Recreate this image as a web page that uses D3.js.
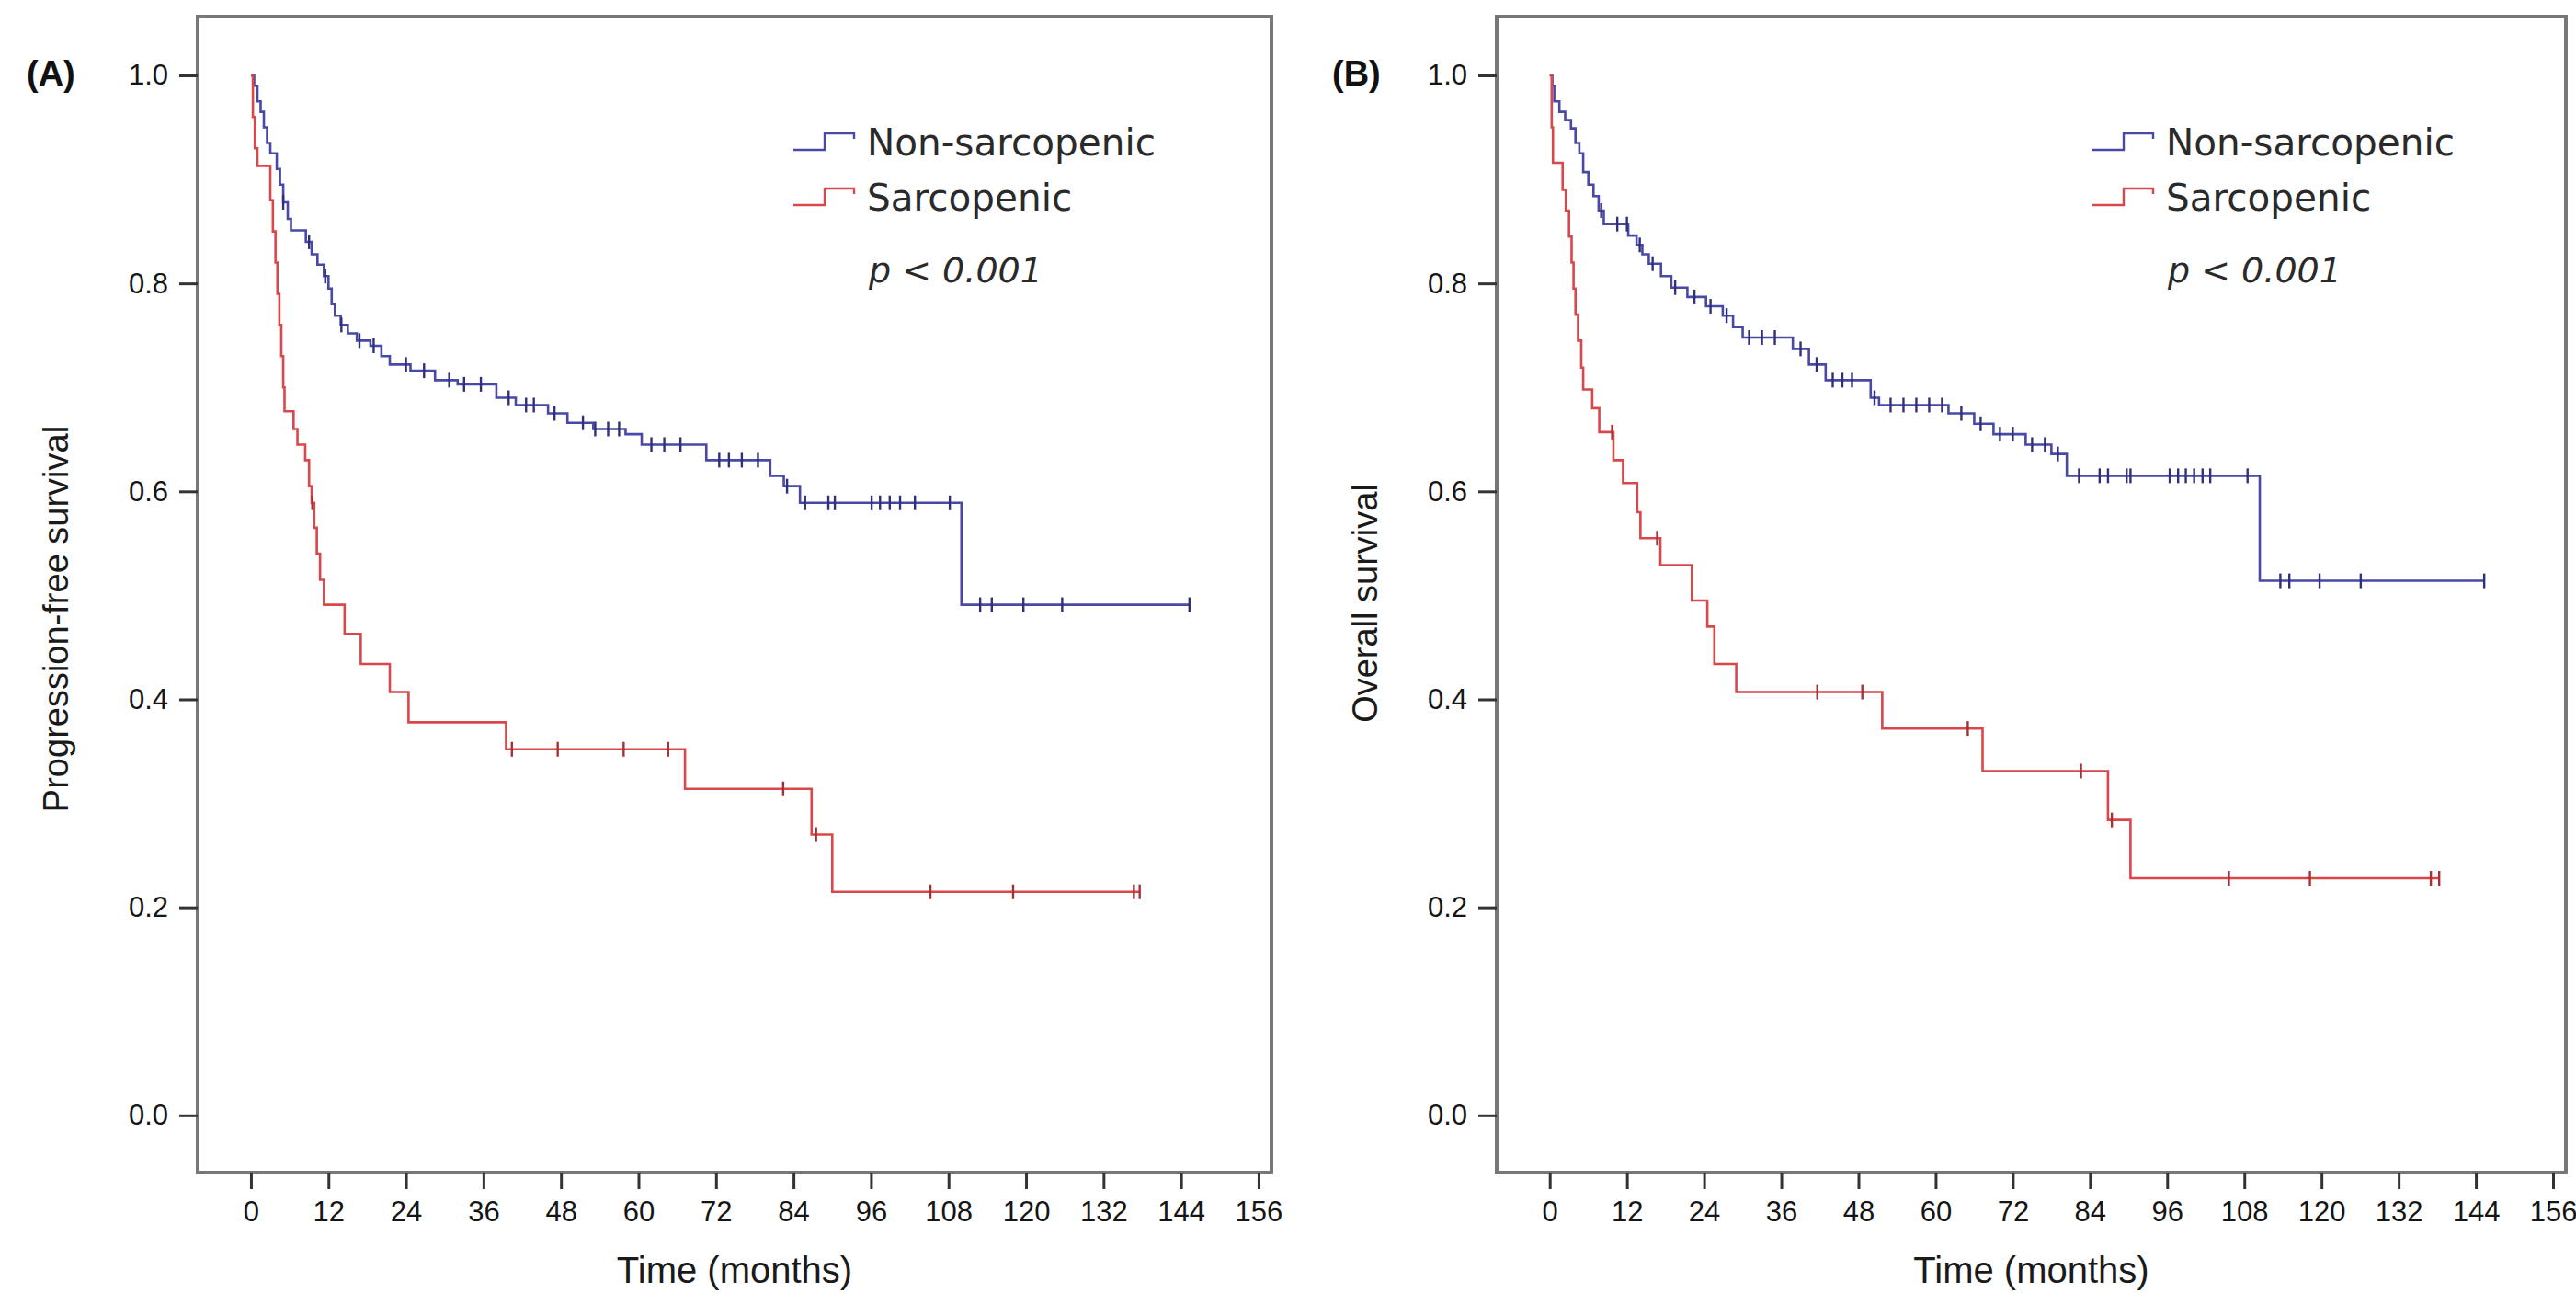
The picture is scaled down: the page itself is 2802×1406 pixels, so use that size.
<!DOCTYPE html>
<html>

<head>
    <title>Survival curves</title>
    <script src="https://d3js.org/d3.v7.min.js"></script>
    <style>
        body { margin: 0; background: #fff; }
    </style>
</head>

<body>
    <script>
        // axis ticks
        var xTicks = [0, 12, 24, 36, 48, 60, 72, 84, 96, 108, 120, 132, 144, 156];
        var yTicks = [0.0, 0.2, 0.4, 0.6, 0.8, 1.0];
        var groupNames = ["Non-sarcopenic", "Sarcopenic"];

        // (A) progression-free survival, non-sarcopenic
        var pfsNonTime = [0, 0.5, 1, 1.5, 2, 2.5, 3, 4, 4.5, 5, 5.7, 6.2, 8.5, 9.4, 10.3, 11.3, 12, 12.5, 13, 13.9, 15, 16.4, 18.5, 20.2, 21.5, 24.7, 28.5, 32, 38, 41, 46, 49, 53, 58, 60.5, 70.5, 80.4, 82.5, 85, 110, 145.3];
        var pfsNonSurv = [1, 0.99, 0.975, 0.965, 0.95, 0.935, 0.925, 0.91, 0.895, 0.878, 0.862, 0.851, 0.84, 0.828, 0.818, 0.807, 0.795, 0.78, 0.769, 0.76, 0.752, 0.745, 0.74, 0.73, 0.722, 0.716, 0.707, 0.703, 0.69, 0.683, 0.675, 0.666, 0.66, 0.655, 0.645, 0.63, 0.615, 0.605, 0.589, 0.491, 0.491];
        var pfsNonCensor = [5, 9, 11.5, 14, 16.8, 19, 24, 26.8, 30.7, 33, 35.6, 39.9, 42.6, 43.8, 47, 51.4, 53.3, 55.3, 57, 62, 64, 66.5, 72.5, 74, 76, 78.5, 83, 85.8, 89.4, 90.4, 96.1, 97.4, 98.9, 100.5, 102.8, 108.2, 112.9, 114.7, 119.6, 125.6, 145.3];

        // (A) progression-free survival, sarcopenic
        var pfsSarcTime = [0, 0.3, 0.6, 1, 3, 3.4, 3.8, 4.1, 4.4, 4.7, 5, 5.2, 6.6, 7.2, 8.4, 9, 9.4, 9.8, 10.2, 10.7, 11.3, 14.5, 17, 21.5, 24.4, 39.5, 67.2, 86.8, 90, 137.6];
        var pfsSarcSurv = [1, 0.96, 0.93, 0.913, 0.88, 0.85, 0.82, 0.79, 0.76, 0.73, 0.70, 0.677, 0.66, 0.645, 0.63, 0.605, 0.589, 0.565, 0.54, 0.515, 0.491, 0.463, 0.434, 0.407, 0.378, 0.352, 0.314, 0.27, 0.215, 0.215];
        var pfsSarcCensor = [9.5, 40.4, 47.5, 57.7, 64.6, 82.4, 87.5, 105.2, 118, 136.7, 137.6];

        // (B) overall survival, non-sarcopenic
        var osNonTime = [0, 0.4, 0.7, 1.5, 2.4, 3.3, 4, 4.6, 5.2, 6, 6.8, 7.6, 8.4, 12.2, 13.5, 14.4, 15.4, 17.3, 18.9, 21.4, 24.3, 26.9, 28.5, 30, 37.8, 40.3, 42.9, 49.9, 51.2, 62, 66, 69, 74, 78, 80.4, 110.4, 145.3];
        var osNonSurv = [1, 0.99, 0.975, 0.965, 0.957, 0.949, 0.935, 0.925, 0.907, 0.895, 0.884, 0.87, 0.857, 0.846, 0.837, 0.828, 0.819, 0.807, 0.796, 0.787, 0.778, 0.769, 0.758, 0.748, 0.737, 0.722, 0.707, 0.69, 0.683, 0.675, 0.665, 0.655, 0.645, 0.636, 0.615, 0.514, 0.514];
        var osNonCensor = [8, 10.5, 12, 14, 16, 19.5, 22.5, 25, 27.5, 31, 33, 35, 39, 41.5, 44, 45.5, 47, 50.5, 53, 55, 57, 59, 61, 64, 67, 70, 72, 75, 77, 79, 82.3, 85.5, 86.8, 89.7, 90.3, 96.4, 97.7, 98.9, 100.2, 101.5, 102.7, 108.5, 113.6, 115, 119.7, 126.1, 145.3];

        // (B) overall survival, sarcopenic
        var osSarcTime = [0, 0.3, 0.5, 2, 2.5, 3, 3.4, 3.7, 4, 4.4, 4.9, 5.2, 6.6, 7.7, 9.9, 11.4, 13.6, 14.1, 17.2, 22.1, 24.5, 25.6, 29, 51.7, 67.3, 86.8, 90.3, 138.3];
        var osSarcSurv = [1, 0.95, 0.916, 0.89, 0.87, 0.845, 0.82, 0.795, 0.77, 0.745, 0.719, 0.698, 0.68, 0.657, 0.63, 0.608, 0.58, 0.555, 0.529, 0.495, 0.47, 0.434, 0.407, 0.372, 0.331, 0.284, 0.228, 0.228];
        var osSarcCensor = [9.7, 16.7, 41.6, 48.6, 65, 82.6, 87.4, 105.6, 118.2, 137, 138.3];

        var colors = ["#4848a6", "#d9474a"];

        var svg = d3.select("body")
            .append("svg")
            .attr("width", 2802)
            .attr("height", 1406)
            .style("font-family", "'Liberation Sans', Arial, sans-serif");

        // panel layout
        var panels = [
            {
                tag: "(A)", tagX: 29, left: 215, right: 1383, yTitle: "Progression-free survival",
                yTitleX: 74, yTitleY: 673,
                series: [
                    { time: pfsNonTime, surv: pfsNonSurv, censor: pfsNonCensor },
                    { time: pfsSarcTime, surv: pfsSarcSurv, censor: pfsSarcCensor }
                ]
            },
            {
                tag: "(B)", tagX: 1449, left: 1628, right: 2791, yTitle: "Overall survival",
                yTitleX: 1498, yTitleY: 656,
                series: [
                    { time: osNonTime, surv: osNonSurv, censor: osNonCensor },
                    { time: osSarcTime, surv: osSarcSurv, censor: osSarcCensor }
                ]
            }
        ];

        var frameTop = 18, frameBottom = 1275;

        // survival value of a step curve at time t
        function survAt(times, surv, t) {
            var s = surv[0];
            for (var i = 0; i < times.length; i++) {
                if (times[i] <= t) s = surv[i];
            }
            return s;
        }

        function drawPanel(p) {
            var x = d3.scaleLinear().domain([-8.25, 158]).range([p.left, p.right]);
            var y = d3.scaleLinear().domain([-0.055, 1.0566]).range([frameBottom, frameTop]);

            // frame
            svg.append("rect")
                .attr("x", p.left)
                .attr("y", frameTop)
                .attr("width", p.right - p.left)
                .attr("height", frameBottom - frameTop)
                .attr("fill", "none")
                .attr("stroke", "#777")
                .attr("stroke-width", 4);

            // x axis
            var gx = svg.append("g")
                .attr("transform", "translate(0," + frameBottom + ")")
                .call(d3.axisBottom(x).tickValues(xTicks).tickSize(18).tickPadding(13));
            gx.select(".domain").remove();
            gx.selectAll(".tick line").attr("stroke", "#333").attr("stroke-width", 3);
            gx.selectAll(".tick text")
                .attr("fill", "#151515")
                .style("font-size", "31px");

            // y axis
            var gy = svg.append("g")
                .attr("transform", "translate(" + p.left + ",0)")
                .call(d3.axisLeft(y).tickValues(yTicks).tickSize(20).tickPadding(12).tickFormat(d3.format(".1f")));
            gy.select(".domain").remove();
            gy.selectAll(".tick line").attr("stroke", "#333").attr("stroke-width", 3);
            gy.selectAll(".tick text")
                .attr("fill", "#151515")
                .style("font-size", "31px");

            // curves
            var line = d3.line()
                .x(function (d) { return x(d[0]); })
                .y(function (d) { return y(d[1]); })
                .curve(d3.curveStepAfter);

            p.series.forEach(function (s, k) {
                var pts = s.time.map(function (t, i) { return [t, s.surv[i]]; });
                svg.append("path")
                    .datum(pts)
                    .attr("d", line)
                    .attr("fill", "none")
                    .attr("stroke", colors[k])
                    .attr("stroke-width", 2.6);

                // censor marks
                svg.append("g")
                    .selectAll("line")
                    .data(s.censor)
                    .enter()
                    .append("line")
                    .attr("x1", function (d) { return x(d); })
                    .attr("x2", function (d) { return x(d); })
                    .attr("y1", function (d) { return y(survAt(s.time, s.surv, d)) - 8; })
                    .attr("y2", function (d) { return y(survAt(s.time, s.surv, d)) + 8; })
                    .attr("stroke", k == 0 ? "#30307a" : "#a83035")
                    .attr("stroke-width", 2.4);
            });

            // legend
            var lx = p.left + 648;
            groupNames.forEach(function (name, k) {
                var base = 169 + k * 60;
                svg.append("path")
                    .attr("d", "M" + lx + "," + (base - 6) + "H" + (lx + 34) + "V" + (base - 24) +
                        "H" + (lx + 66) + "V" + (base - 18))
                    .attr("fill", "none")
                    .attr("stroke", colors[k])
                    .attr("stroke-width", 2.4);
                svg.append("text")
                    .attr("x", lx + 80)
                    .attr("y", base)
                    .style("font-family", "'DejaVu Sans', sans-serif")
                    .style("font-size", "40.5px")
                    .attr("fill", "#2a2a2a")
                    .text(name);
            });

            svg.append("text")
                .attr("x", p.left + 730)
                .attr("y", 307)
                .style("font-family", "'DejaVu Sans', sans-serif")
                .style("font-size", "38px")
                .style("font-style", "italic")
                .attr("fill", "#2a2a2a")
                .text("p < 0.001");

            // panel tag
            svg.append("text")
                .attr("x", p.tagX)
                .attr("y", 93)
                .style("font-size", "38px")
                .style("font-weight", "bold")
                .attr("fill", "#111")
                .text(p.tag);

            // axis titles
            svg.append("text")
                .attr("x", (p.left + p.right) / 2)
                .attr("y", 1395)
                .attr("text-anchor", "middle")
                .style("font-size", "40px")
                .attr("fill", "#1a1a1a")
                .text("Time (months)");

            svg.append("text")
                .attr("transform", "translate(" + p.yTitleX + "," + p.yTitleY + ") rotate(-90)")
                .attr("text-anchor", "middle")
                .style("font-size", "38px")
                .attr("fill", "#1a1a1a")
                .text(p.yTitle);
        }

        panels.forEach(drawPanel);
    </script>
</body>

</html>
